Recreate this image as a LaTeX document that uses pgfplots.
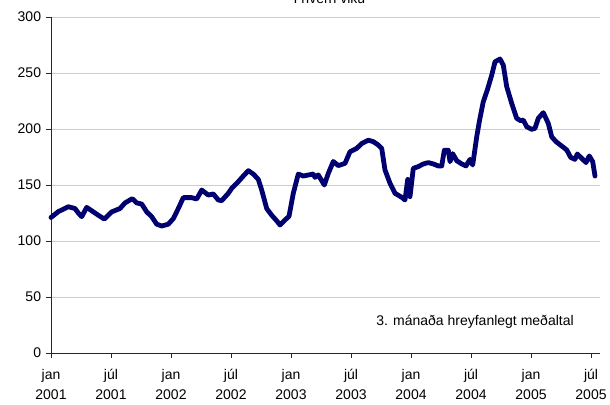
\documentclass[border=0pt]{standalone}
\usepackage{fontspec}
\setmainfont{Liberation Sans}
\usepackage{pgfplots}
\pgfplotsset{compat=1.18}
\definecolor{navy}{RGB}{0,0,110}
\definecolor{gridgray}{RGB}{204,204,204}
\begin{document}
\fontsize{10.5}{12.6}\selectfont
\begin{tikzpicture}
\begin{axis}[name=ax,
  scale only axis, width=411.75pt, height=252pt,
  xmin=0, xmax=54.9, ymin=0, ymax=300,
  axis x line*=bottom, axis y line*=left,
  axis line style={line width=0.6pt, black!85},
  tick style={line width=0.6pt, black!85},
  tick align=outside, major tick length=3.75pt,
  xtick={0,6,...,54},
  xticklabels={{jan\\2001},{júl\\2001},{jan\\2002},{júl\\2002},{jan\\2003},{júl\\2003},{jan\\2004},{júl\\2004},{jan\\2005},{júl\\2005}},
  xticklabel style={align=center, yshift=-4.5pt, font=\fontsize{10.5}{15}\selectfont},
  ytick={0,50,...,300},
  yticklabel style={font=\fontsize{10.5}{12.6}\selectfont},
  /pgf/number format/assume math mode=true,
  ymajorgrids, grid style={gridgray, line width=0.6pt},
  clip=false,
]
\addplot[navy, line width=3.6pt, line join=round, line cap=round] coordinates {
(0,121) (0.73,126.2) (1.73,130.6) (2.4,129) (2.73,125) (3.07,121.7) (3.57,130) (4.07,127) (4.73,123) (5.33,119.6) (6.07,126) (6.9,129) (7.4,134) (8.13,137.8) (8.57,134) (9.07,133) (9.57,126) (10.07,121.7) (10.57,115) (11.07,113.4) (11.73,115) (12.23,120) (12.73,129) (13.23,138.7) (14.07,138.7) (14.57,137.5) (15.07,145.5) (15.73,141) (16.23,142) (16.73,136.6) (17.07,136) (17.73,142.6)
(18.07,147) (18.73,153) (19.23,158) (19.73,162.8) (20.23,159.8) (20.73,155) (21.07,145.5) (21.57,129) (22.07,123) (22.57,118) (22.9,114.3) (23.4,118.8) (23.8,122) (24.23,142.6) (24.73,159.8) (25.23,158) (26.23,159.8) (26.4,156.8) (26.73,159) (27.33,150) (27.73,160.4) (28.23,171) (28.73,167.3) (29.4,169.3) (29.9,179.7) (30.57,182.7) (31.07,187) (31.73,190) (32.23,188.7) (32.73,185.7) (33.07,182.7) (33.4,163.4) (33.9,151.5) (34.4,142.6) (35.07,139) (35.4,136.6) (35.67,155) (35.9,139.6) (36.23,164.9)
(36.73,166.4) (37.23,168.8) (37.73,170) (38.23,168.8) (38.73,167) (39.07,167) (39.33,181) (39.73,181) (39.9,170.8) (40.17,178) (40.57,171.7) (41.07,168.8) (41.5,167) (41.9,172.9) (42.17,167.8) (42.57,193) (42.83,206.5) (43.23,224.4) (43.63,234.8) (44.07,248) (44.4,260) (44.9,262.5) (45.23,257) (45.57,237.8) (46.07,222.9) (46.57,209.5) (46.97,207.4) (47.23,208) (47.57,202) (48.07,199.7) (48.4,200.6) (48.73,209.5) (49.23,214.6) (49.73,205) (50.07,193) (50.5,188.7) (51.07,184.8) (51.57,181.3) (51.97,174.6) (52.4,172.9) (52.63,177.7) (53.07,173.8) (53.5,170) (53.83,175.9) (54.17,170.8) (54.4,158)
};
\node[font=\fontsize{10.5}{12.6}\selectfont] at (axis cs:42.4,27.7) {3. mánaða hreyfanlegt meðaltal};
\node[anchor=base, font=\fontsize{10.5}{12.6}\selectfont] at (axis cs:27.85,312) {Í hverri viku};
\end{axis}
\pgfresetboundingbox
\path[use as bounding box] ([shift={(-38.25pt,-39pt)}]ax.south west) rectangle ([shift={(7.5pt,12.75pt)}]ax.north east);
\end{tikzpicture}
\end{document}
